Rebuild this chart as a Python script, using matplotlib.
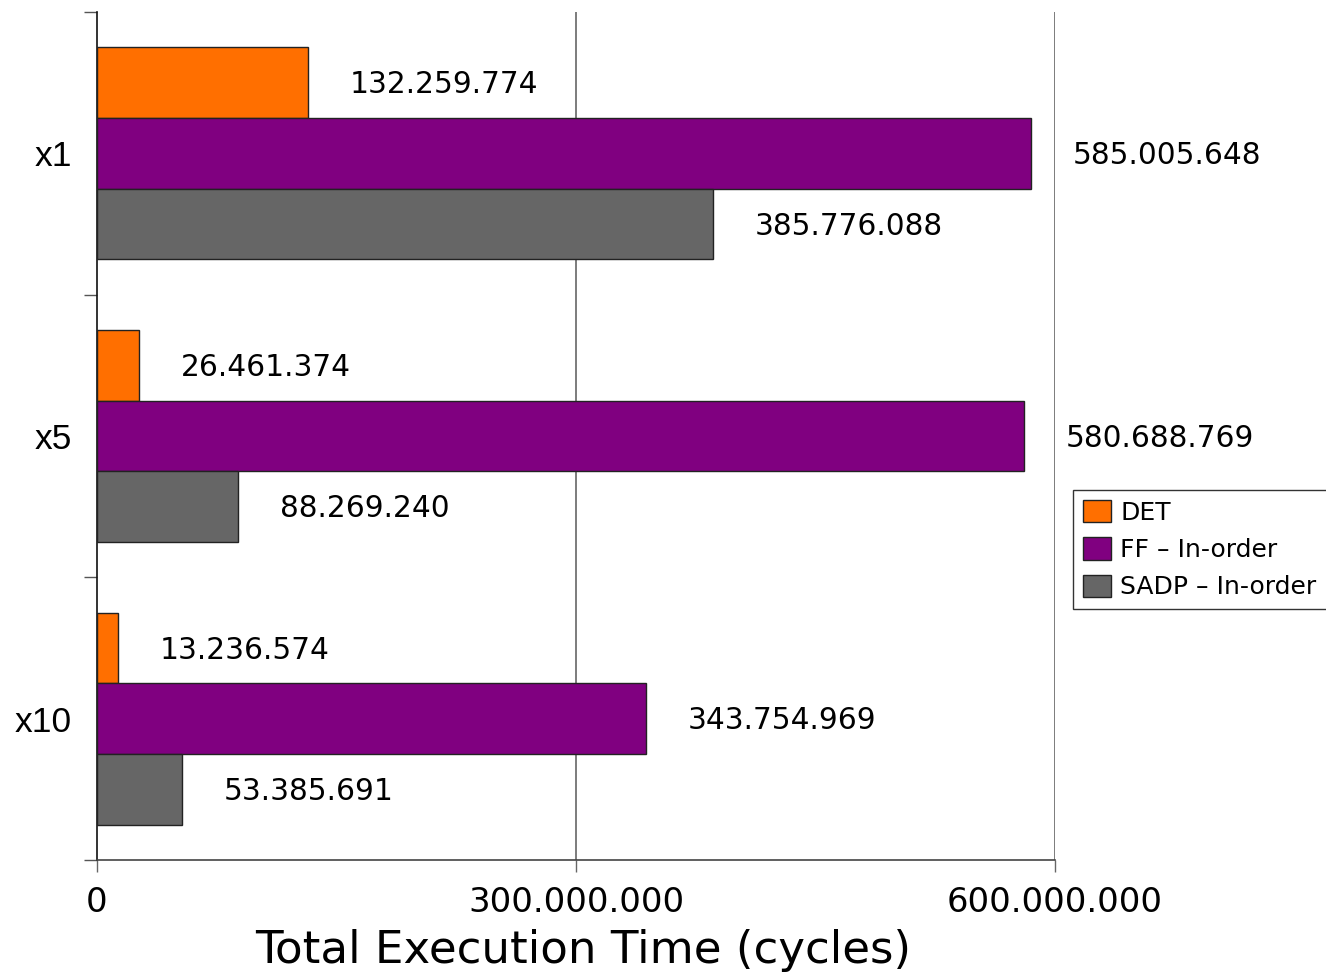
import matplotlib
matplotlib.use("Agg")
import matplotlib.pyplot as plt
import numpy as np

categories = ["x1", "x5", "x10"]
series_names = ["DET", "FF \u2013 In-order", "SADP \u2013 In-order"]
det = [132259774, 26461374, 13236574]
ff = [585005648, 580688769, 343754969]
sadp = [385776088, 88269240, 53385691]
colors = ["#FF6F00", "#800080", "#666666"]
xticks = [0, 300000000, 600000000]
xtick_labels = ["0", "300.000.000", "600.000.000"]

W, H = 1326, 976
fig = plt.figure(figsize=(W / 100, H / 100), dpi=100)
ax = fig.add_axes([97 / W, 1 - 860 / H, (1055 - 97) / W, (860 - 12) / H])

y = np.arange(len(categories))
bh = 0.25
for i, (vals, name, col) in enumerate(zip([det, ff, sadp], series_names, colors)):
    pos = y + (i - 1) * bh
    ax.barh(pos, vals, height=bh, color=col, edgecolor="#222222",
            linewidth=1, label=name, zorder=3)
    for p, v in zip(pos, vals):
        ax.annotate(f"{v:,}".replace(",", "."), xy=(v, p), xytext=(30, -1.5),
                    textcoords="offset points", ha="left", va="center",
                    fontsize=21.3, family="DejaVu Sans", color="black")

ax.set_xlim(0, 600000000)
ax.set_ylim(len(categories) - 0.5, -0.5)

# x axis
ax.set_xticks(xticks)
ax.set_xticklabels(xtick_labels, fontsize=24.4, family="DejaVu Sans")
ax.tick_params(axis="x", length=8.6, width=1, color="#666666", pad=10)
for x in xticks[1:]:
    ax.axvline(x, color="#666666", linewidth=1.2, zorder=1)
ax.set_xlabel("Total Execution Time (cycles)", fontsize=32.5,
              family="DejaVu Sans")
ax.xaxis.set_label_coords(0.5 + 7 / 958, -0.107)
ax.xaxis.label.set_va("center")

# y axis: boundary ticks (major), category labels (minor)
ax.set_yticks(np.arange(-0.5, len(categories), 1.0))
ax.set_yticklabels([])
ax.tick_params(axis="y", which="major", length=9.4, width=1, color="#555555")
ax.set_yticks(y, minor=True)
ax.set_yticklabels(categories, minor=True, fontsize=25.5, family="Liberation Sans")
ax.tick_params(axis="y", which="minor", length=0, pad=18)

for s in ["top", "right"]:
    ax.spines[s].set_visible(False)
ax.spines["left"].set_color("#111111")
ax.spines["bottom"].set_color("#444444")
ax.spines["left"].set_linewidth(1.2)
ax.spines["bottom"].set_linewidth(1.2)

leg = fig.legend(loc="upper left", bbox_to_anchor=(1073 / W, 1 - 490 / H),
                 bbox_transform=fig.transFigure, borderaxespad=0,
                 prop={"family": "DejaVu Sans", "size": 18},
                 handlelength=1.1, handleheight=1.0, handletextpad=0.4,
                 labelspacing=0.5, borderpad=0.4, fancybox=False,
                 frameon=True, edgecolor="#333333", framealpha=1)
leg.get_frame().set_linewidth(1)

fig.savefig("out.png", dpi=100)
